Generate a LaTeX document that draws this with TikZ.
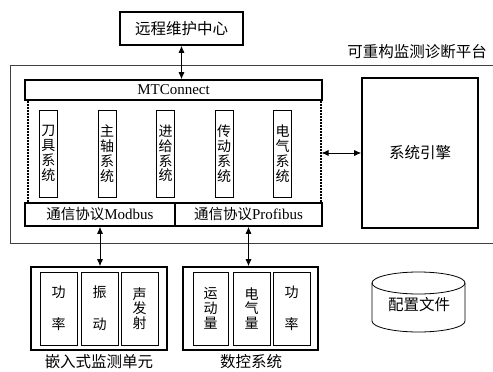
\documentclass[tikz,border=0pt]{standalone}
\usepackage{fontspec}
\setmainfont{Liberation Serif}
\newfontfamily\cjk{Noto Sans CJK SC}
\usetikzlibrary{arrows.meta}

\begin{document}
\begin{tikzpicture}[x=1pt,y=-1pt,
	box/.style={draw, line width=1.6pt, inner sep=0pt, font=\cjk\fontsize{15.5}{17}\selectfont},
	sub/.style={draw, line width=0.8pt, inner sep=0pt, align=center, font=\cjk\fontsize{14}{14.8}\selectfont},
	proto/.style={box, font=\fontsize{15}{16}\selectfont},
	link/.style={line width=0.8pt, {Latex[length=7pt,width=6pt]}-{Latex[length=7pt,width=6pt]}},
	lbl/.style={inner sep=0pt, font=\cjk\fontsize{15.5}{17}\selectfont}]
	\useasboundingbox (0,0) rectangle (493,372);
	% platform frame
	\draw[line width=0.8pt, black!75] (500,65) -- (10,65) -- (10,243) -- (500,243);
	\node[lbl] (platname) at (417,52) {可重构监测诊断平台};
	\node[box, minimum width=123pt, minimum height=33pt] (remote) at (181.5,28.5) {远程维护中心};
	\node[proto, minimum width=297pt, minimum height=20pt] (mtc) at (173.5,90) {MTConnect};
	\node[draw, line width=2pt, dash pattern=on 1.6pt off 1.4pt, minimum width=293pt, minimum height=103pt] (core) at (174,151.5) {};
	\foreach \name/\txt [count=\i from 0] in {tool/刀\\具\\系\\统, spindle/主\\轴\\系\\统, feed/进\\给\\系\\统, drive/传\\动\\系\\统, elec/电\\气\\系\\统}
		\node[sub, minimum width=18pt, minimum height=87pt] (\name) at (48.5+58.5*\i,153.5) {\txt};
	\node[proto, minimum width=150pt, minimum height=23pt] (modbus) at (100,214.5) {{\cjk\fontsize{14.5}{16}\selectfont 通信协议}Modbus};
	\node[proto, minimum width=147pt, minimum height=23pt] (profibus) at (248.5,214.5) {{\cjk\fontsize{14.5}{16}\selectfont 通信协议}Profibus};
	\node[box, minimum width=116pt, minimum height=150pt] (engine) at (420,153) {系统引擎};
	% field side
	\node[box, minimum width=136pt, minimum height=83pt] (embedded) at (99,308.5) {};
	\node[sub, minimum width=37pt, minimum height=73pt] (power1) at (58.5,308.5) {功\\[17pt]率};
	\node[sub, minimum width=37pt, minimum height=73pt] (vib) at (99.5,308.5) {振\\[17pt]动};
	\node[sub, minimum width=37pt, minimum height=73pt] (ae) at (139.5,308.5) {声\\发\\射};
	\node[box, minimum width=135pt, minimum height=83pt] (nc) at (250.5,308.5) {};
	\node[sub, minimum width=35pt, minimum height=73pt] (motion) at (210.5,308.5) {运\\动\\量};
	\node[sub, minimum width=37pt, minimum height=73pt] (elecq) at (251.5,308.5) {电\\气\\量};
	\node[sub, minimum width=37pt, minimum height=73pt] (power2) at (291.5,308.5) {功\\[17pt]率};
	\node[lbl] (embname) at (99,362) {嵌入式监测单元};
	\node[lbl] (ncname) at (251,362) {数控系统};
	% config file
	\draw[line width=0.8pt] (418.5,283) ellipse (46.5 and 11);
	\draw[line width=0.8pt] (372,283) -- (372,321) arc(180:0:46.5 and 11) -- (465,283);
	\node[lbl] (config) at (419,305) {配置文件};
	% links
	\draw[link] (remote.south) -- (remote.south |- mtc.north);
	\draw[link] (core.east |- engine.west) -- (engine.west);
	\draw[link] (modbus.south) -- (modbus.south |- embedded.north);
	\draw[link] (profibus.south) -- (profibus.south |- nc.north);
\end{tikzpicture}
\end{document}
